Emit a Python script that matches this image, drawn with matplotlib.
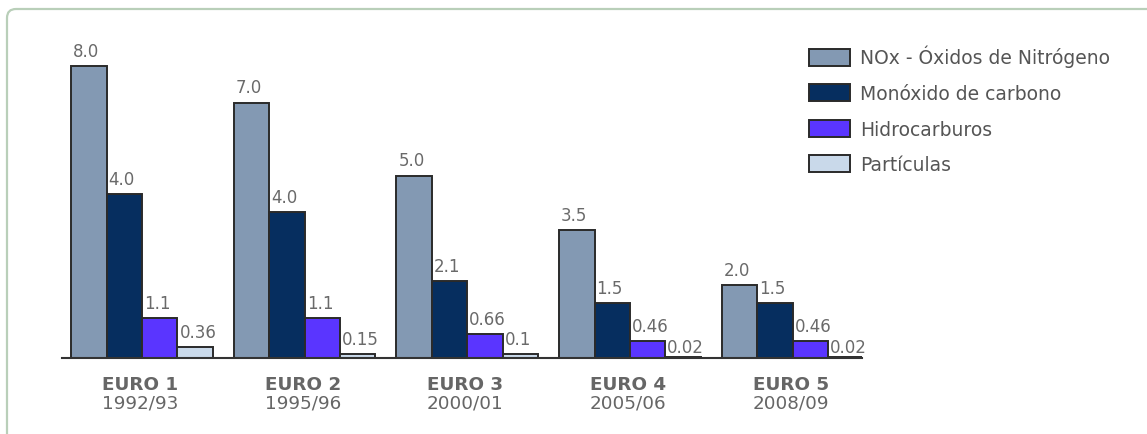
import matplotlib
matplotlib.use('Agg')
import matplotlib.pyplot as plt
from matplotlib.patches import FancyBboxPatch
from matplotlib.legend_handler import HandlerPatch
import numpy as np

categories = ['EURO 1', 'EURO 2', 'EURO 3', 'EURO 4', 'EURO 5']
years = ['1992/93', '1995/96', '2000/01', '2005/06', '2008/09']
series = ['NOx - Óxidos de Nitrógeno', 'Monóxido de carbono', 'Hidrocarburos', 'Partículas']
nox = [8.0, 7.0, 5.0, 3.5, 2.0]
co = [4.5, 4.0, 2.1, 1.5, 1.5]
hc = [1.1, 1.1, 0.66, 0.46, 0.46]
pm = [0.31, 0.11, 0.11, 0.02, 0.02]
nox_labels = ['8.0', '7.0', '5.0', '3.5', '2.0']
co_labels = ['4.0', '4.0', '2.1', '1.5', '1.5']
hc_labels = ['1.1', '1.1', '0.66', '0.46', '0.46']
pm_labels = ['0.36', '0.15', '0.1', '0.02', '0.02']
colors = ['#8399b3', '#062e5f', '#5a35ff', '#c9d9ea']

W, H = 1147, 435
fig = plt.figure(figsize=(W / 100, H / 100), dpi=100)
fig.patch.set_facecolor('white')

# outer rounded frame (clipped by figure edges on right and bottom)
frame = FancyBboxPatch((7, -60), 1300, H - 10 + 60,
                       boxstyle='round,pad=0,rounding_size=9',
                       transform=None, facecolor='none',
                       edgecolor='#b9cfb9', linewidth=1.6)
fig.add_artist(frame)

ax_left, ax_right, base, top = 62, 862, 359, 39
ax = fig.add_axes([ax_left / W, (H - base) / H, (ax_right - ax_left) / W, (base - top) / H])
unit = 36.5
ax.set_ylim(0, (base - top) / unit)
spacing = 162.64
bw_px = 35.4
center0 = 71.2 + 2 * bw_px
ax.set_xlim((ax_left - center0) / spacing, (ax_right - center0) / spacing)
bw = bw_px / spacing
x = np.arange(len(categories))

data = [nox, co, hc, pm]
labels = [nox_labels, co_labels, hc_labels, pm_labels]
for k, (vals, labs) in enumerate(zip(data, labels)):
    pos = x + (k - 1.5) * bw
    ax.bar(pos, vals, width=bw, color=colors[k], edgecolor='#2a2a2a',
           linewidth=1.4, label=series[k], zorder=2)
    for p, v, lab in zip(pos, vals, labs):
        dy = 10 if v > 0.05 else 5
        ax.annotate(lab, (p - bw / 2, v), xytext=(2, dy), textcoords='offset pixels',
                    ha='left', va='baseline', fontsize=12, color='#6a6a6a',
                    fontfamily='DejaVu Sans')

for xi, c, yr in zip(x, categories, years):
    ax.annotate(c, (xi - 0.012, 0), xytext=(0, -31), textcoords='offset pixels',
                ha='center', va='baseline', fontsize=13.2, fontweight='bold',
                color='#666666')
    ax.annotate(yr, (xi - 0.012, 0), xytext=(0, -50), textcoords='offset pixels',
                ha='center', va='baseline', fontsize=13.2, color='#666666')

ax.set_xticks([])
ax.set_yticks([])
for s in ['top', 'right', 'left']:
    ax.spines[s].set_visible(False)
ax.spines['bottom'].set_color('#333333')
ax.spines['bottom'].set_linewidth(1.5)
ax.patch.set_alpha(0)


def make_box(legend, orig_handle, xdescent, ydescent, width, height, fontsize):
    return FancyBboxPatch((-xdescent, -ydescent), width, height,
                          boxstyle='round,pad=0,rounding_size=3')


fs = 13.5
fs_px = fs * 100 / 72
handles, labs = ax.get_legend_handles_labels()
leg = fig.legend(handles, labs, loc='upper left',
                 bbox_to_anchor=(809 / W, 1 - 46 / H), frameon=False,
                 fontsize=fs, borderpad=0, borderaxespad=0,
                 handlelength=41 / fs_px, handleheight=19 / fs_px,
                 handletextpad=10 / fs_px, labelspacing=0.88,
                 handler_map={matplotlib.patches.Rectangle: HandlerPatch(patch_func=make_box)})
for t in leg.get_texts():
    t.set_color('#555555')

fig.savefig('out.png', dpi=100)
